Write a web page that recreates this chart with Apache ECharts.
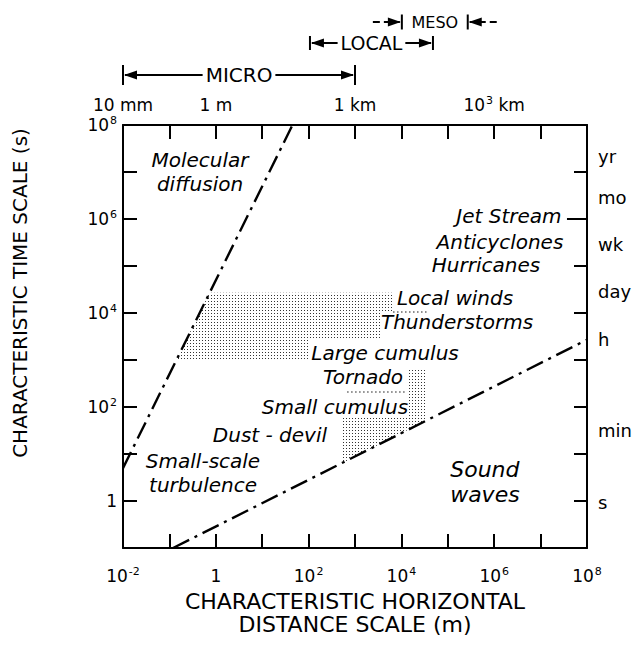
<!DOCTYPE html>
<html><head><meta charset="utf-8">
<script src="https://cdn.jsdelivr.net/npm/echarts@6/dist/echarts.min.js"></script>
<style>html,body{margin:0;padding:0;background:#fff}#c{width:641px;height:668px}</style>
</head><body><div id="c"></div>
<script>
// ---------- data ----------
const xTickExps = [-2, 0, 2, 4, 6, 8];
const xTickLabels = ['{b|10}{s|-2}', '{b|1}', '{b|10}{s|2}', '{b|10}{s|4}', '{b|10}{s|6}', '{b|10}{s|8}'];
const topTickExps = [-2, 0, 3, 6];
const topTickLabels = ['{b|10 mm}', '{b|1 m}', '{b|1 km}', '{b|10}{s|3}{b| km}'];
const yTickExps = [8, 6, 4, 2, 0];
const yTickLabels = ['{b|10}{s|8}', '{b|10}{s|6}', '{b|10}{s|4}', '{b|10}{s|2}', '{b|1}'];
const timeUnitNames = ['yr', 'mo', 'wk', 'day', 'h', 'min', 's'];
const timeUnitValues = [2.1e7, 2.8e6, 2.8e5, 2.8e4, 2700, 32, 0.95];
const molecularDiffusion = [[0.01, 5], [45, 1e8]];
const soundWaves = [[0.12, 0.1], [1e8, 2700]];
const jetStreamMark = [[3.7e7, 1e6], [1e8, 1e6]];
const regionLarge = [[0.73, 27000], [6600, 27000], [6600, 10500], [3470, 10500], [3470, 2700], [107, 2700], [107, 1000], [0.14, 1000]];
const regionTornado = [[13200, 676], [35500, 676], [35500, 51.6], [13200, 31.6]];
const regionDustDevil = [[550, 59], [15500, 59], [15500, 34.3], [550, 6.5]];
const tornadoDots = [[676, 209], [13200, 209]];
const thunderDots = [[6600, 10500], [35500, 10500]];
const phenomenaNames = ['Molecular\ndiffusion', 'Jet Stream', 'Anticyclones', 'Hurricanes', 'Local winds', 'Thunderstorms', 'Large cumulus', 'Tornado', 'Small cumulus', 'Dust - devil', 'Small-scale\nturbulence'];
const phenomenaX = [0.457, 2.08e6, 1.33e6, 6.65e5, 1.43e5, 1.58e5, 4440, 1490, 371, 14.7, 0.53];
const phenomenaY = [9.8e6, 1.16e6, 3.24e5, 1.05e5, 2.08e4, 6440, 1410, 435, 100, 25.4, 3.94];
const soundLabel = 'Sound\nwaves';
const soundLabelPos = [6.3e5, 2.48];
const scaleNames = ['MICRO', 'LOCAL', 'MESO'];
const scaleFrom = [0.01, 107, 10230];
const scaleTo = [1000, 47900, 269000];

// ---------- chart ----------
const FONT = 'DejaVu Sans';
const chart = echarts.init(document.getElementById('c'), null, {renderer: 'svg'});

function lookup(exps, labels) {
  return function (v) {
    const e = Math.round(Math.log10(v));
    const i = exps.indexOf(e);
    return i >= 0 ? labels[i] : '';
  };
}
const tickRich = {
  b: {fontFamily: FONT, fontSize: 17, color: '#000', lineHeight: 20},
  s: {fontFamily: FONT, fontSize: 11, color: '#000', lineHeight: 20, verticalAlign: 'top', padding: [0, 0, 8, 1]}
};

// stipple pattern
const pc = document.createElement('canvas');
pc.width = 3; pc.height = 3;
const pctx = pc.getContext('2d');
pctx.fillStyle = '#ffffff'; pctx.fillRect(0, 0, 3, 3);
pctx.fillStyle = '#333333'; pctx.fillRect(1, 1, 1, 1);
const stipple = {image: pc, repeat: 'repeat'};

const regions = [regionLarge, regionTornado, regionDustDevil];

const axisLineStyle = {color: '#000', width: 2};
const baseAxis = {
  type: 'log', logBase: 10, interval: 1,
  axisLine: {show: true, lineStyle: axisLineStyle},
  axisTick: {show: true, inside: true, length: 14, lineStyle: axisLineStyle},
  splitLine: {show: false}, minorTick: {show: false}
};
const labelBase = {fontFamily: FONT, color: '#000', opacity: 1, textBorderWidth: 0, textShadowBlur: 0};
const textItem = {color: '#000', opacity: 1};

const option = {
  animation: false,
  backgroundColor: '#fff',
  grid: {left: 123, right: 54, top: 125, bottom: 120},
  xAxis: [
    Object.assign({}, baseAxis, {
      min: 0.01, max: 1e8, position: 'bottom',
      axisLabel: {formatter: lookup(xTickExps, xTickLabels), rich: tickRich, margin: 18},
      name: 'CHARACTERISTIC HORIZONTAL\nDISTANCE SCALE (m)', nameLocation: 'middle', nameGap: 42,
      nameTextStyle: {fontFamily: FONT, fontSize: 22, lineHeight: 23, color: '#000'}
    }),
    Object.assign({}, baseAxis, {
      min: 0.01, max: 1e8, position: 'top',
      axisLabel: {formatter: lookup(topTickExps, topTickLabels), rich: tickRich, margin: 10}
    })
  ],
  yAxis: [
    Object.assign({}, baseAxis, {
      min: 0.1, max: 1e8, position: 'left',
      axisLabel: {formatter: lookup(yTickExps, yTickLabels), rich: tickRich, margin: 6}
    }),
    Object.assign({}, baseAxis, {
      min: 0.1, max: 1e8, position: 'right',
      axisTick: {show: true, inside: true, length: 13, lineStyle: axisLineStyle},
      axisLabel: {show: false}
    })
  ],
  series: [
    {
      type: 'custom', xAxisIndex: 0, yAxisIndex: 0, silent: true, z: 1,
      data: regions.map(function (r, i) { return [i]; }),
      renderItem: function (params, api) {
        const poly = regions[params.dataIndex];
        return {
          type: 'polygon',
          shape: {points: poly.map(function (p) { return api.coord(p); })},
          style: {fill: stipple, stroke: null}
        };
      }
    },
    {
      type: 'line', data: tornadoDots, symbol: 'none', silent: true, z: 2,
      lineStyle: {color: '#666', width: 1.5, type: [1.5, 2.5]}
    },
    {
      type: 'line', data: thunderDots, symbol: 'none', silent: true, z: 2,
      lineStyle: {color: '#666', width: 1.5, type: [1.5, 2.5]}
    },
    {
      type: 'line', data: molecularDiffusion, symbol: 'none', silent: true, z: 3,
      lineStyle: {color: '#000', width: 2.4, type: [18, 6, 3, 6]}
    },
    {
      type: 'line', data: soundWaves, symbol: 'none', silent: true, z: 3,
      lineStyle: {color: '#000', width: 2.4, type: [18, 6, 3, 6]}
    },
    {
      type: 'line', data: jetStreamMark, symbol: 'none', silent: true, z: 3,
      lineStyle: {color: '#000', width: 2, type: 'solid'}
    },
    {
      type: 'scatter', symbolSize: 0, silent: true, z: 4, itemStyle: textItem,
      data: phenomenaNames.map(function (n, i) { return {name: n, value: [phenomenaX[i], phenomenaY[i]]}; }),
      label: Object.assign({show: true, position: 'inside', formatter: '{b}', fontStyle: 'italic',
        fontSize: 20, lineHeight: 24, align: 'center', verticalAlign: 'middle'}, labelBase)
    },
    {
      type: 'scatter', symbolSize: 0, silent: true, z: 4, itemStyle: textItem,
      data: [{name: soundLabel, value: soundLabelPos}],
      label: Object.assign({show: true, position: 'inside', formatter: '{b}', fontStyle: 'italic',
        fontSize: 22, lineHeight: 25, align: 'center', verticalAlign: 'middle'}, labelBase)
    },
    {
      type: 'scatter', symbolSize: 0, silent: true, z: 4, clip: false, itemStyle: textItem,
      data: timeUnitNames.map(function (n, i) { return {name: n, value: [1e8, timeUnitValues[i]]}; }),
      label: Object.assign({show: true, position: 'right', distance: 11, formatter: '{b}',
        fontSize: 18, align: 'left', verticalAlign: 'middle'}, labelBase)
    }
  ]
};
chart.setOption(option);

// ---------- scale bars (MICRO / LOCAL / MESO) above the plot ----------
const mctx = document.createElement('canvas').getContext('2d');
const rowFontSize = [20, 19, 16];
const rowY = [75, 43, 22];
const rowBarH = [20, 14, 15];
const rowStyle = ['in', 'in', 'out'];
const g = [];
const ls = {stroke: '#000', lineWidth: 2};
function seg(x1, y1, x2, y2) { g.push({type: 'line', shape: {x1: x1, y1: y1, x2: x2, y2: y2}, style: ls, silent: true}); }
function tri(tipX, y, dir) { // dir -1 points left, +1 points right
  const base = tipX - dir * 13;
  g.push({type: 'polygon', shape: {points: [[tipX, y], [base, y - 4.5], [base, y + 4.5]]}, style: {fill: '#000'}, silent: true});
}
scaleNames.forEach(function (name, i) {
  const x1 = chart.convertToPixel({xAxisIndex: 0}, scaleFrom[i]);
  const x2 = chart.convertToPixel({xAxisIndex: 0}, scaleTo[i]);
  const y = rowY[i], h = rowBarH[i];
  const font = rowFontSize[i] + 'px "DejaVu Sans"';
  mctx.font = font;
  seg(x1, y - h / 2, x1, y + h / 2);
  seg(x2, y - h / 2, x2, y + h / 2);
  const cx = (x1 + x2) / 2;
  const tw = mctx.measureText(name).width;
  g.push({type: 'text', x: cx, y: y, silent: true,
    style: {text: name, font: font, fill: '#000', align: 'center', verticalAlign: 'middle'}});
  if (rowStyle[i] === 'in') {
    seg(cx - tw / 2 - 3, y, x1 + 2, y); tri(x1 + 1, y, -1);
    seg(cx + tw / 2 + 3, y, x2 - 2, y); tri(x2 - 1, y, 1);
  } else {
    seg(x1 - 29, y, x1 - 22, y); seg(x1 - 18, y, x1 - 2, y); tri(x1 - 1, y, 1);
    seg(x2 + 29, y, x2 + 22, y); seg(x2 + 18, y, x2 + 2, y); tri(x2 + 1, y, -1);
  }
});
// vertical axis title
g.push({type: 'text', x: 20, y: 293, rotation: Math.PI / 2, silent: true,
  style: {text: 'CHARACTERISTIC TIME SCALE (s)', font: '20px "DejaVu Sans"', fill: '#000', align: 'center', verticalAlign: 'middle'}});
chart.setOption({graphic: g});
</script>
</body></html>
